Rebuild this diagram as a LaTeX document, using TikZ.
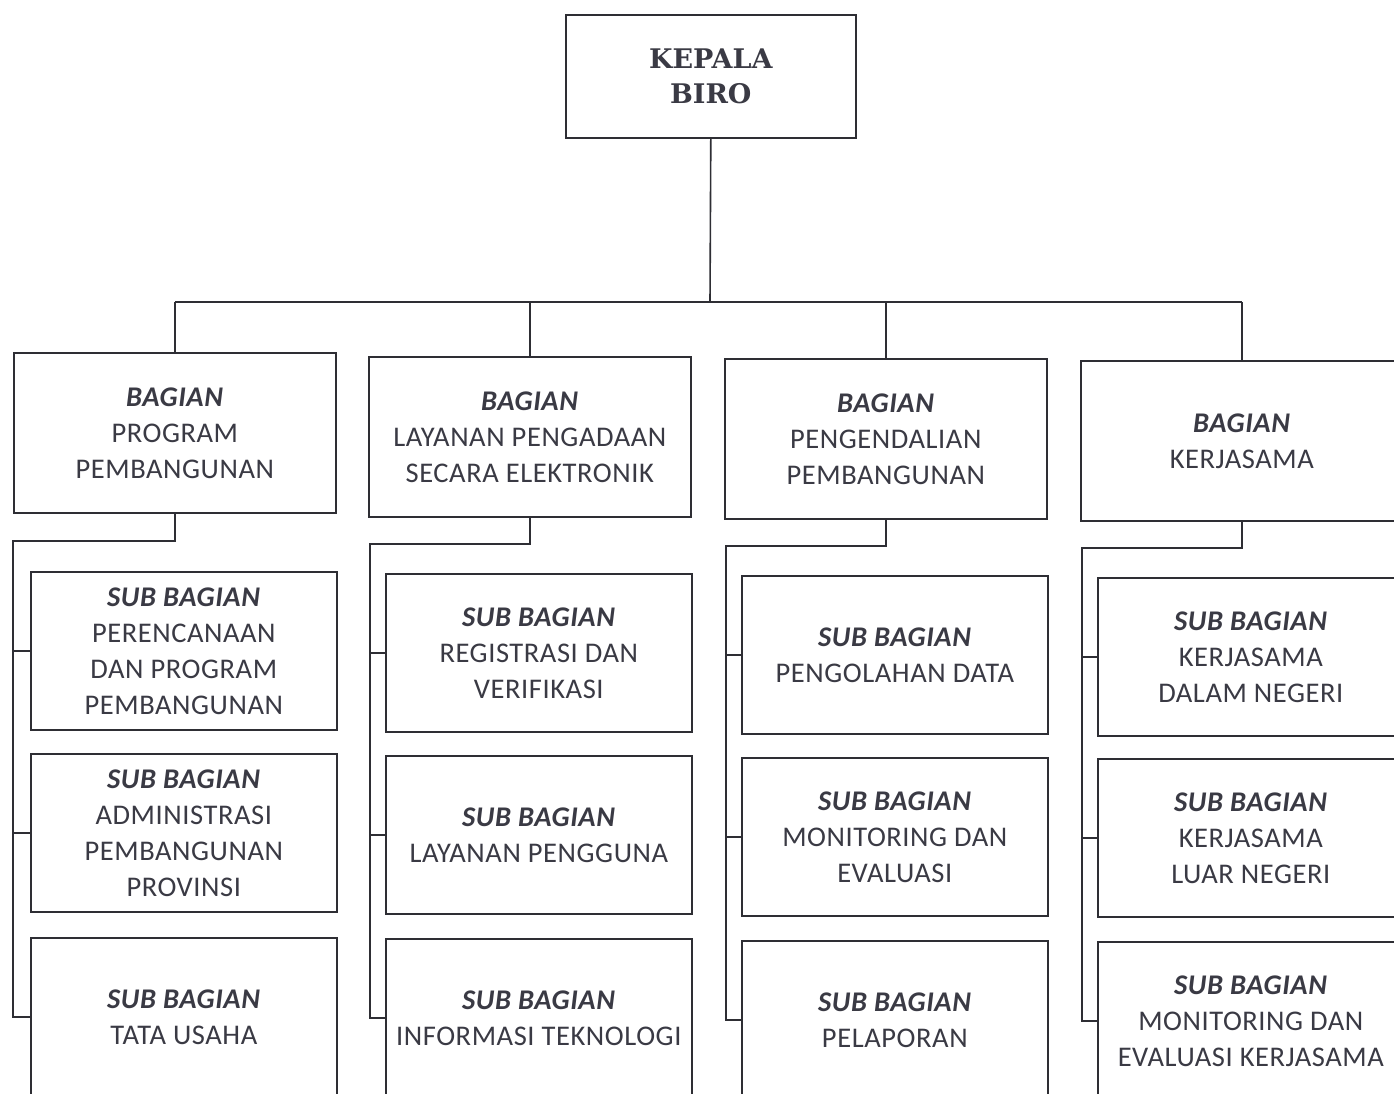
\documentclass[tikz,border=0pt]{standalone}
\usepackage{fontspec}
\setmainfont{Carlito}[LetterSpace=2]
\newfontfamily\kfont{DejaVu Serif}
\definecolor{ink}{HTML}{3A3A44}
\definecolor{ln}{HTML}{2E2E34}
\begin{document}
\begin{tikzpicture}[x=1pt,y=-1pt,
  box/.style={draw=ln, line width=1.6pt, inner sep=0pt, align=center, text=ink,
    font=\fontsize{28.5}{36}\selectfont, anchor=north west,
    minimum width=322pt, minimum height=160pt},
  sub/.style={box, minimum width=306pt, minimum height=158pt},
  conn/.style={draw=ln, line width=1.6pt}]
\useasboundingbox (0,0) rectangle (1394,1094);
\clip (0,0) rectangle (1394,1094);
\fill[white] (0,0) rectangle (1394,1094);
\newcommand{\hb}[1]{\textbf{\textit{#1}}}
% top
\node[box, minimum width=290pt, minimum height=123pt, font=\kfont\bfseries\fontsize{27}{35}\selectfont] (kb) at (565,14) {KEPALA\\BIRO};
% bagian
\node[box] (b1) at (13,352) {\hb{BAGIAN}\\PROGRAM\\PEMBANGUNAN};
\node[box] (b2) at (368,356) {\hb{BAGIAN}\\LAYANAN PENGADAAN\\SECARA ELEKTRONIK};
\node[box] (b3) at (724,358) {\hb{BAGIAN}\\PENGENDALIAN\\PEMBANGUNAN};
\node[box] (b4) at (1080,360) {\hb{BAGIAN}\\KERJASAMA};
% sub col 1
\node[sub] (s1a) at (30,571) {\hb{SUB BAGIAN}\\PERENCANAAN\\DAN PROGRAM\\PEMBANGUNAN};
\node[sub] (s1b) at (30,753) {\hb{SUB BAGIAN}\\ADMINISTRASI\\PEMBANGUNAN\\PROVINSI};
\node[sub] (s1c) at (30,937) {\hb{SUB BAGIAN}\\TATA USAHA};
% sub col 2
\node[sub] (s2a) at (385,573) {\hb{SUB BAGIAN}\\REGISTRASI DAN\\VERIFIKASI};
\node[sub] (s2b) at (385,755) {\hb{SUB BAGIAN}\\LAYANAN PENGGUNA};
\node[sub] (s2c) at (385,938) {\hb{SUB BAGIAN}\\INFORMASI TEKNOLOGI};
% sub col 3
\node[sub] (s3a) at (741,575) {\hb{SUB BAGIAN}\\PENGOLAHAN DATA};
\node[sub] (s3b) at (741,757) {\hb{SUB BAGIAN}\\MONITORING DAN\\EVALUASI};
\node[sub] (s3c) at (741,940) {\hb{SUB BAGIAN}\\PELAPORAN};
% sub col 4
\node[sub] (s4a) at (1097,577) {\hb{SUB BAGIAN}\\KERJASAMA\\DALAM NEGERI};
\node[sub] (s4b) at (1097,758) {\hb{SUB BAGIAN}\\KERJASAMA\\LUAR NEGERI};
\node[sub] (s4c) at (1097,941) {\hb{SUB BAGIAN}\\MONITORING DAN\\EVALUASI KERJASAMA};
% connectors top
\coordinate (bar) at (710,302);
\draw[conn] (kb.south) -- (bar);
\draw[conn] (b1.north |- bar) -- (b4.north |- bar);
\foreach \b in {b1,b2,b3,b4} \draw[conn] (\b.north |- bar) -- (\b.north);
% column junctions
\coordinate (j1) at (13,541);
\coordinate (j2) at (370,544);
\coordinate (j3) at (726,546);
\coordinate (j4) at (1082,548);
\foreach \i in {1,2,3,4} {
  \draw[conn] (b\i.south) |- (j\i) |- (s\i c.west);
  \draw[conn] (s\i a.west -| j\i) -- (s\i a.west);
  \draw[conn] (s\i b.west -| j\i) -- (s\i b.west);
}
\end{tikzpicture}
\end{document}
